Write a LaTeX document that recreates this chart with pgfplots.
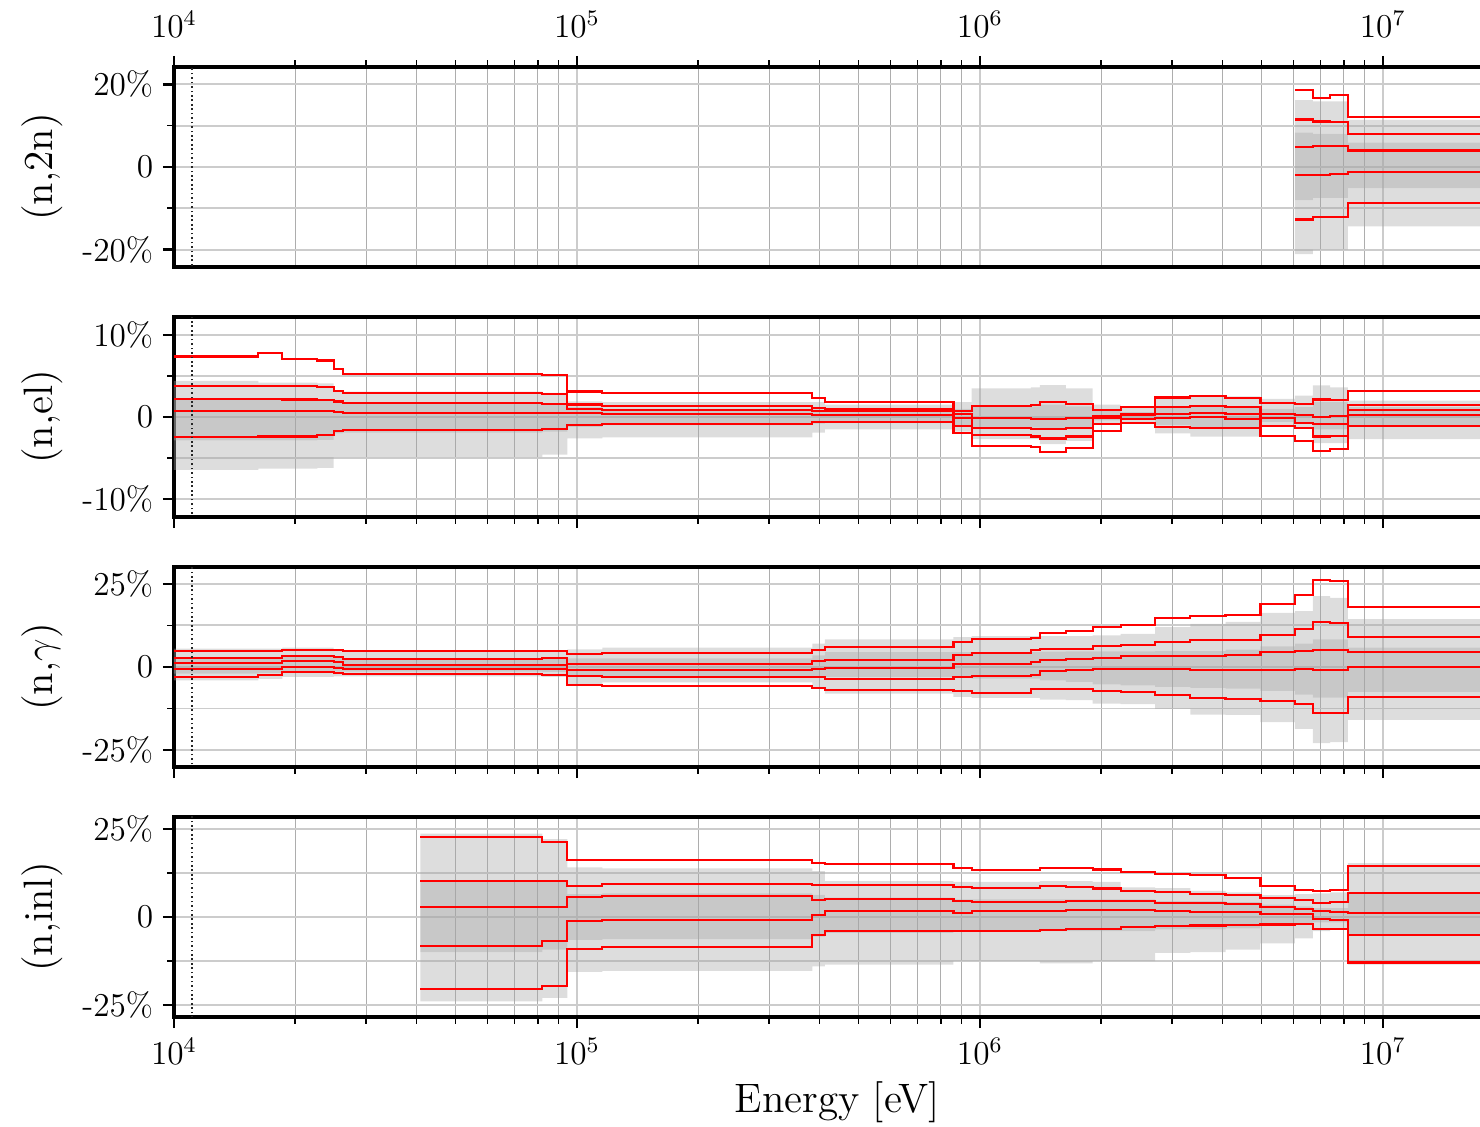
\documentclass[border=0pt]{standalone}
\usepackage{pgfplots}
\pgfplotsset{compat=1.18}
\usepackage{pgfplotstable}
\usepgfplotslibrary{fillbetween}

% (n,2n)
\pgfplotstableread{
E lh ll dh dl r1 r2 r3 r4 r5
6.05e6 16.2 -21.1 8.3 -8.0 18.7 11.5 4.9 -2.0 -12.7
6.70e6 15.9 -20.0 8.0 -7.5 16.7 11.0 5.1 -1.9 -12.0
7.40e6 15.9 -20.0 8.0 -7.5 17.4 10.8 5.1 -1.8 -12.0
8.19e6 11.4 -14.4 5.9 -5.1 12.1 7.9 4.0 -1.2 -8.7
1.964e7 11.4 -14.4 5.9 -5.1 12.1 7.9 4.0 -1.2 -8.7
}\tabA

% (n,el)
\pgfplotstableread{
E lh ll dh dl r1 r2 r3 r4 r5
1e4 4.4 -6.45 2.1 -2.85 7.38 3.77 2.21 0.74 -2.46
1.62e4 4.2 -6.3 2.1 -2.85 7.79 3.73 2.21 0.74 -2.38
1.857e4 4.2 -6.3 2.1 -2.85 7.09 3.73 2.13 0.74 -2.38
2.27e4 4.1 -6.2 2.0 -2.8 6.89 3.61 2.05 0.74 -2.25
2.49e4 3.1 -4.9 1.7 -2.0 5.82 3.16 1.89 0.61 -1.72
2.62e4 3.1 -4.9 1.6 -1.9 5.29 2.95 1.76 0.53 -1.56
8.21e4 2.95 -4.6 1.5 -1.8 5.12 2.83 1.64 0.49 -1.43
9.47e4 1.9 -2.6 1.2 -1.2 3.11 1.52 0.98 0.45 -0.94
1.156e5 1.8 -2.5 1.0 -1.0 2.91 1.35 0.90 0.37 -0.82
3.84e5 1.8 -1.9 0.9 -0.8 2.34 1.11 0.74 0.29 -0.61
4.125e5 1.5 -1.5 0.8 -0.7 1.84 0.94 0.70 0.20 -0.61
8.6e5 1.8 -1.8 1.0 -1.0 0.78 0.35 -0.10 -1.05 -1.95
9.54e5 3.5 -2.7 1.3 -1.3 1.35 -0.12 -1.35 -2.25 -3.57
1.339e6 3.6 -2.7 1.3 -1.3 1.43 -0.20 -1.43 -2.38 -3.69
1.409e6 3.9 -3.3 1.5 -1.5 1.80 -0.20 -1.43 -2.62 -4.30
1.635e6 3.5 -2.9 1.3 -1.3 1.60 -0.16 -1.31 -2.38 -3.81
1.904e6 1.5 -0.8 0.8 -0.4 0.82 0.16 -0.12 -0.82 -1.72
2.234e6 1.2 -0.6 0.6 -0.3 1.23 0.41 0.20 -0.25 -0.70
2.72e6 2.3 -2.0 1.2 -1.0 2.38 1.23 0.41 -0.08 -1.23
3.33e6 2.5 -2.4 1.3 -1.2 2.58 1.35 0.53 0.00 -1.39
4.07e6 2.5 -2.4 1.3 -1.2 2.34 1.19 0.33 -0.20 -1.31
4.97e6 2.2 -1.2 1.0 -0.6 1.76 0.41 -0.12 -1.15 -2.30
6.05e6 2.6 -1.4 1.2 -0.7 1.64 0.20 -0.74 -1.35 -2.91
6.70e6 3.85 -3.2 1.8 -1.5 2.13 0.04 -0.90 -2.38 -4.18
7.40e6 3.6 -3.2 1.8 -1.5 2.05 0.08 -0.82 -2.30 -3.85
8.19e6 2.0 -2.7 1.2 -1.0 3.16 1.48 0.82 0.20 -1.11
1.964e7 2.0 -2.7 1.2 -1.0 3.16 1.48 0.82 0.20 -1.11
}\tabB

% (n,gamma)
\pgfplotstableread{
E lh ll dh dl r1 r2 r3 r4 r5
1e4 5.5 -4.0 3.0 -2.0 4.82 2.81 1.31 -0.70 -3.02
1.62e4 5.5 -3.6 3.0 -1.8 4.82 2.81 1.31 -0.50 -2.41
1.857e4 5.8 -3.0 3.2 -1.5 5.23 3.42 1.71 0.00 -1.61
2.27e4 5.8 -3.0 3.2 -1.5 5.23 3.42 1.71 0.00 -1.61
2.49e4 5.2 -2.8 2.8 -1.4 5.03 3.02 1.41 -0.20 -1.81
2.62e4 4.8 -2.8 2.6 -1.4 4.82 2.41 0.70 -0.50 -2.01
8.21e4 4.8 -3.0 2.6 -1.5 4.82 2.61 0.70 -0.50 -2.51
9.47e4 5.3 -5.2 2.6 -2.8 3.82 0.80 -1.00 -2.71 -5.32
1.156e5 5.8 -4.6 2.6 -2.9 4.12 0.90 -0.90 -3.11 -5.62
3.84e5 7.0 -6.0 3.5 -3.0 5.10 1.80 -0.60 -3.00 -6.20
4.125e5 8.3 -8.0 4.5 -3.0 5.90 2.10 -0.40 -3.60 -7.00
8.6e5 9.0 -9.0 4.5 -3.3 7.54 3.52 0.80 -3.02 -7.24
9.54e5 9.3 -9.3 4.5 -3.5 8.44 4.32 1.00 -2.71 -7.84
1.339e6 9.3 -9.3 4.5 -3.5 8.84 5.03 1.51 -2.51 -6.63
1.409e6 9.3 -9.8 4.6 -4.0 10.35 5.53 2.21 -1.31 -6.63
1.635e6 9.3 -10.0 4.7 -4.5 10.75 5.53 2.31 -1.00 -6.63
1.904e6 9.5 -11.0 4.7 -5.2 12.06 6.23 2.61 -0.50 -7.24
2.234e6 10.0 -11.2 4.7 -5.5 12.76 6.73 3.22 -0.50 -7.54
2.72e6 12.0 -12.6 4.8 -6.0 14.77 7.44 3.32 -0.70 -8.54
3.33e6 13.0 -14.3 4.8 -6.3 15.38 8.04 3.32 -1.00 -9.35
4.07e6 13.6 -14.4 5.2 -6.5 15.78 8.24 3.52 -1.00 -9.55
4.97e6 16.3 -16.6 6.2 -7.2 19.00 9.65 4.62 -1.00 -10.35
6.05e6 16.8 -18.6 7.0 -8.3 21.80 11.56 4.92 -0.70 -11.26
6.70e6 21.3 -22.9 8.3 -9.2 26.30 13.47 5.23 -1.00 -13.97
7.40e6 20.8 -22.6 8.3 -9.2 25.90 13.17 5.13 -1.00 -13.77
8.19e6 14.4 -15.9 5.8 -7.5 18.09 9.05 4.52 0.10 -9.15
1.964e7 14.4 -15.9 5.8 -7.5 18.09 9.05 4.52 0.10 -9.15
}\tabC

% (n,inl)
\pgfplotstableread{
E lh ll dh dl r1 r2 r3 r4 r5
4.087e4 23.7 -24.0 10.2 -10.0 22.6 10.14 2.79 -8.19 -20.47
8.21e4 22.1 -23.0 10.2 -9.3 21.3 10.14 2.79 -6.70 -19.70
9.47e4 14.1 -15.6 6.5 -6.5 16.28 8.84 5.58 -1.12 -9.12
1.156e5 13.8 -15.3 6.7 -6.3 16.10 9.49 5.95 -0.93 -8.47
3.84e5 13.0 -14.0 6.3 -5.6 15.35 9.12 4.93 0.47 -5.12
4.125e5 10.2 -13.5 5.5 -4.5 15.07 9.21 5.02 1.67 -4.09
8.6e5 10.0 -12.5 5.0 -4.0 13.95 8.56 4.65 1.21 -3.91
9.54e5 10.0 -12.5 5.0 -4.0 13.30 8.28 4.19 1.67 -3.91
1.339e6 10.0 -12.5 5.0 -4.0 13.30 8.28 4.19 1.67 -3.91
1.409e6 10.2 -13.2 5.0 -4.0 13.95 8.74 4.37 1.67 -3.72
1.635e6 10.2 -13.2 5.0 -4.0 13.95 8.56 4.47 1.86 -3.53
1.904e6 10.0 -12.5 5.0 -4.0 13.49 8.09 4.65 2.05 -3.35
2.234e6 8.4 -12.5 5.0 -4.0 12.84 7.44 4.65 1.86 -2.88
2.72e6 8.2 -10.2 4.5 -3.5 12.09 7.16 4.09 1.67 -2.51
3.33e6 7.4 -10.0 4.5 -3.5 11.81 6.60 3.91 1.40 -2.42
4.07e6 7.0 -9.3 4.2 -3.2 11.16 6.33 3.63 1.30 -2.33
4.97e6 6.2 -7.5 3.5 -2.5 8.74 5.49 2.79 0.93 -2.14
6.05e6 6.5 -6.1 3.0 -2.0 7.72 4.74 2.23 0.93 -2.05
6.70e6 6.7 -4.0 2.5 -1.5 7.44 4.00 1.58 -0.47 -3.35
7.40e6 7.0 -3.5 2.5 -1.5 7.72 4.19 1.49 -0.74 -3.53
8.19e6 15.3 -13.5 7.0 -5.1 14.60 6.88 1.02 -5.21 -12.93
1.964e7 15.3 -13.5 7.0 -5.1 14.60 6.88 1.02 -5.21 -12.93
}\tabD

\definecolor{linered}{RGB}{255,0,0}

\pgfplotsset{
  every axis/.append style={
    scale only axis, width=477.7pt, height=72pt,
    xmin=1e4, xmax=1.964e7,
    grid=both,
    major grid style={black!20, line width=0.7pt},
    minor x grid style={black!32, line width=0.35pt},
    minor y grid style={black!20, line width=0.7pt},
    tick align=outside,
    major tick length=4pt, minor tick length=2.4pt,
    every major tick/.append style={black, line width=0.9pt},
    every minor tick/.append style={black, line width=0.6pt},
    axis line style={line width=1.1pt},
    ytick pos=left,
    tick label style={font=\fontsize{12}{14}\selectfont},
  },
  every axis y label/.style={at={(axis description cs:-0.0994,0.5)}, rotate=90, anchor=center, font=\fontsize{14.8}{17}\selectfont},
  every axis x label/.style={at={(axis description cs:0.5,-0.425)}, anchor=center, font=\fontsize{14.8}{17}\selectfont},
  redstep/.style={const plot, color=linered, line width=0.75pt, mark=none},
}

\newcommand\drawpanel[1]{%
  \addplot[const plot, draw=none, name path=lh] table[x=E,y=lh]{#1};
  \addplot[const plot, draw=none, name path=ll] table[x=E,y=ll]{#1};
  \addplot[const plot, draw=none, name path=dh] table[x=E,y=dh]{#1};
  \addplot[const plot, draw=none, name path=dl] table[x=E,y=dl]{#1};
  \addplot[fill=black!35, fill opacity=0.38, draw=none] fill between[of=lh and ll];
  \addplot[fill=black!35, fill opacity=0.38, draw=none] fill between[of=dh and dl];
  \addplot[redstep] table[x=E,y=r1]{#1};
  \addplot[redstep] table[x=E,y=r2]{#1};
  \addplot[redstep] table[x=E,y=r3]{#1};
  \addplot[redstep] table[x=E,y=r4]{#1};
  \addplot[redstep] table[x=E,y=r5]{#1};
  \addplot[black!85, densely dotted, line width=0.6pt] coordinates {(1.11e4,-40) (1.11e4,40)};
}

\begin{document}
\begin{tikzpicture}
\begin{semilogxaxis}[at={(0pt,0pt)}, anchor=north west,
  ymin=-24.2, ymax=24.2,
  ytick={-20,0,20}, yticklabels={-20\%,0,20\%}, minor ytick={-10,10},
  xtick pos=right, xticklabel pos=right,
  xticklabel style={yshift=3pt},
  ylabel={(n,2n)}]
\drawpanel{\tabA}
\end{semilogxaxis}
\begin{semilogxaxis}[at={(0pt,-90pt)}, anchor=north west,
  ymin=-12.2, ymax=12.2,
  ytick={-10,0,10}, yticklabels={-10\%,0,10\%}, minor ytick={-5,5},
  xtick pos=left, xticklabels={},
  ylabel={(n,el)}]
\drawpanel{\tabB}
\end{semilogxaxis}
\begin{semilogxaxis}[at={(0pt,-180pt)}, anchor=north west,
  ymin=-30.1, ymax=30.1,
  ytick={-25,0,25}, yticklabels={-25\%,0,25\%}, minor ytick={-12.5,12.5},
  xtick pos=left, xticklabels={},
  ylabel={(n,$\gamma$)}]
\drawpanel{\tabC}
\end{semilogxaxis}
\begin{semilogxaxis}[at={(0pt,-270pt)}, anchor=north west,
  ymin=-28.4, ymax=28.4,
  ytick={-25,0,25}, yticklabels={-25\%,0,25\%}, minor ytick={-12.5,12.5},
  xtick pos=left,
  ylabel={(n,inl)}, xlabel={Energy [eV]}]
\drawpanel{\tabD}
\end{semilogxaxis}
\pgfresetboundingbox
\useasboundingbox (-62.64pt,24.12pt) rectangle (470.16pt,-381.6pt);
\end{tikzpicture}
\end{document}
